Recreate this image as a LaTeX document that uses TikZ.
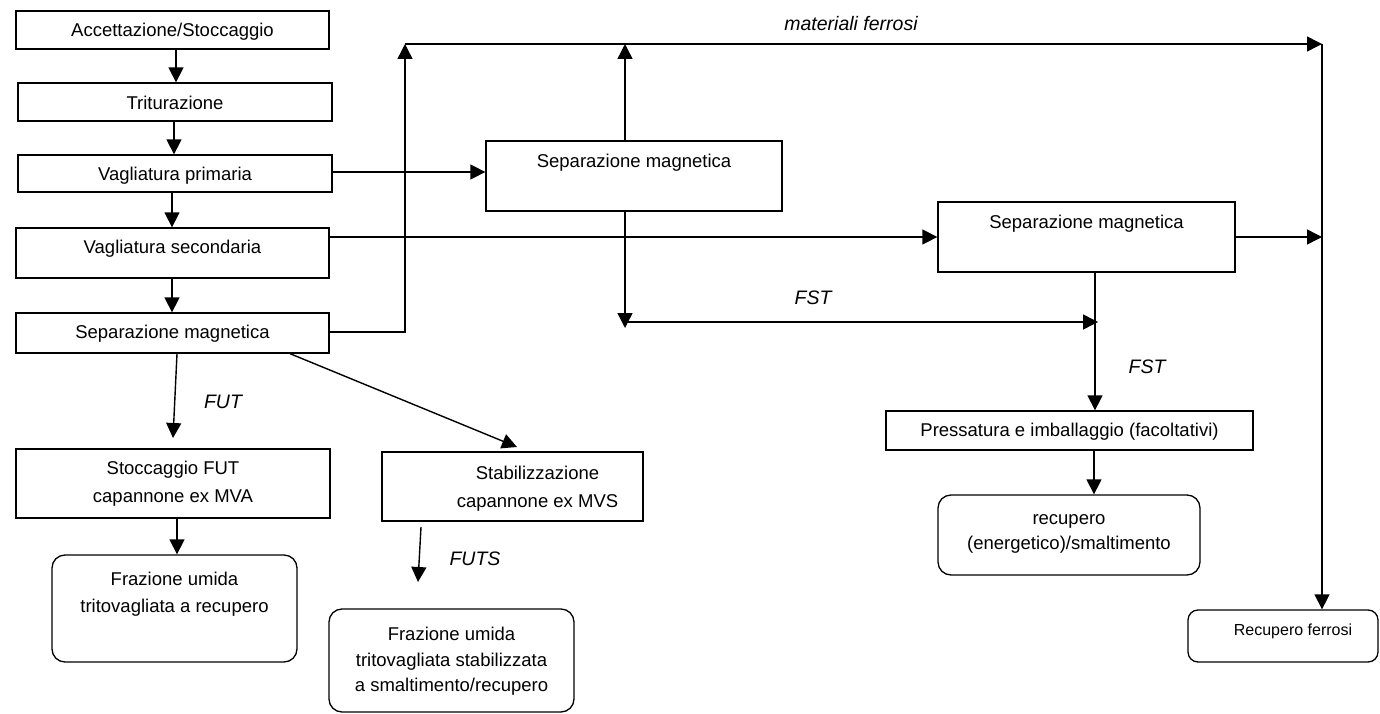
\documentclass[tikz,border=0pt]{standalone}
\usepackage{fontspec}
\setmainfont{Liberation Sans}
\usetikzlibrary{arrows.meta}
\newcommand{\boxtxt}[5]{\parbox[c][#2pt][t]{#1pt}{\centering\leftskip=#4pt plus 1fil\vspace*{#3pt}\strut #5}}
\tikzset{
  box/.style={draw, line width=1.3pt, inner sep=0pt, font=\fontsize{18.5}{28}\selectfont},
  rbox/.style={box, rounded corners=13pt},
  arr/.style={line width=1.4pt, -{Triangle[length=15pt,width=15pt]}},
  lbl/.style={font=\fontsize{19.5}{24}\selectfont\itshape, inner sep=0pt},
}
\begin{document}
\begin{tikzpicture}[x=1pt,y=-1pt]
\useasboundingbox (0,0) rectangle (1380,714);
% left column
\node[box] (acc) at (172.5,30) {\boxtxt{313}{38}{6}{0}{Accettazione/Stoccaggio}};
\node[box] (trit) at (175,102) {\boxtxt{314}{38}{7}{0}{Triturazione}};
\node[box] (vp) at (175,173.5) {\boxtxt{314}{37}{6}{0}{Vagliatura primaria}};
\node[box] (vs) at (172.5,253) {\boxtxt{313}{50}{6}{0}{Vagliatura secondaria}};
\node[box] (sepA) at (172.5,333) {\boxtxt{313}{40}{6}{0}{Separazione magnetica}};
\node[box] (stocc) at (173,483.5) {\boxtxt{314}{69}{6}{0}{Stoccaggio FUT\\capannone ex MVA}};
\node[rbox] (frazA) at (174.5,608.5) {\boxtxt{245}{107}{11}{0}{\baselineskip=27pt Frazione umida\\tritovagliata a recupero}};
\node[box] (stab) at (512.5,486.5) {\boxtxt{261}{69}{8}{50}{Stabilizzazione\\capannone ex MVS}};
\node[rbox] (frazB) at (451.5,660.5) {\boxtxt{245}{103}{12}{0}{\baselineskip=25.5pt Frazione umida\\tritovagliata stabilizzata\\a smaltimento/recupero}};
% middle and right
\node[box] (sepB) at (634,176) {\boxtxt{296}{70}{7}{0}{Separazione magnetica}};
\node[box] (sepC) at (1086.5,237) {\boxtxt{297}{70}{7}{0}{Separazione magnetica}};
\node[box] (press) at (1069.5,430.5) {\boxtxt{367}{39}{6}{0}{Pressatura e imballaggio (facoltativi)}};
\node[rbox] (recup) at (1069,535) {\boxtxt{262}{80}{10}{0}{\baselineskip=25pt recupero\\(energetico)/smaltimento}};
\node[box, rounded corners=10pt, font=\fontsize{16}{24}\selectfont] (recF) at (1283,636) {\boxtxt{190}{52}{9}{20}{Recupero ferrosi}};
% labels
\node[lbl] (mf) at (851,24) {materiali ferrosi};
\node[lbl] (fst1) at (813,298) {FST};
\node[lbl] (fst2) at (1147,367) {FST};
\node[lbl] (fut) at (223,402) {FUT};
\node[lbl] (futs) at (475,559) {FUTS};
% coordinates
\coordinate (jL) at (405,44);
\coordinate (jR) at (1322,44);
\coordinate (fstS) at (625,322);
\coordinate (fstE) at (1098,322);
\coordinate (futE) at (173,438);
\coordinate (diagE) at (517,447);
\coordinate (futsS) at (421,527);
\coordinate (futsE) at (418,582);
% connectors
\draw[arr] (176,0 |- acc.south) -- (176,0 |- trit.north);
\draw[arr] (174,0 |- trit.south) -- (174,0 |- vp.north);
\draw[arr] (172,0 |- vp.south) -- (172,0 |- vs.north);
\draw[arr] (172,0 |- vs.south) -- (172,0 |- sepA.north);
\draw[arr] (vp.east |- 0,172) -- (sepB.west |- 0,172);
\draw[arr] (vs.east |- 0,237) -- (sepC.west |- 0,237);
\draw[arr] (sepA.east |- 0,332) -| (jL);
\draw[arr] (jL) -- (jR);
\draw[arr] (625,0 |- sepB.north) -- (625,0 |- jL);
\draw[arr] (sepC.east |- 0,237) -- (jR |- 0,237);
\draw[arr] (jR) -- (jR |- recF.north);
\draw[arr] (625,0 |- sepB.south) -- (625,328);
\draw[arr] (fstS) -- (fstE);
\draw[arr] (1095,0 |- sepC.south) -- (1095,0 |- press.north);
\draw[arr] (1094,0 |- press.south) -- (1094,0 |- recup.north);
\draw[arr] (177,0 |- sepA.south) -- (futE);
\draw[arr] (177,0 |- stocc.south) -- (177,0 |- frazA.north);
\draw[arr] (290,0 |- sepA.south) -- (diagE);
\draw[arr] (futsS) -- (futsE);
\end{tikzpicture}
\end{document}
